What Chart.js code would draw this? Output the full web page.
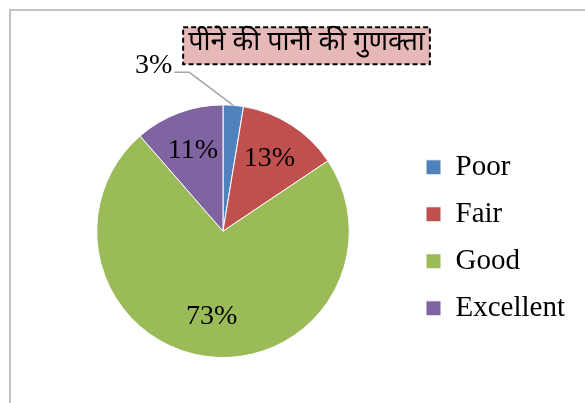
<!DOCTYPE html>
<html>
<head>
<meta charset="utf-8">
<script src="https://cdn.jsdelivr.net/npm/chart.js@4.4.0/dist/chart.umd.min.js"></script>
<style>
    html, body { margin: 0; padding: 0; background: #fff; overflow: hidden; }
    canvas { display: block; }
</style>
</head>
<body>
<canvas id="chart" width="585" height="403"></canvas>
<script>
const categories = ['Poor', 'Fair', 'Good', 'Excellent'];
const shares = [2.6, 13.0, 73.0, 11.4];
const sliceColors = ['#4F81BD', '#C0504D', '#9BBB59', '#8064A2'];
const titleText = 'पीने की पानी की गुणक्ता';

(function () {
    const serif = '"Liberation Serif", "Times New Roman", serif';
    const deva = '"Noto Sans Devanagari", "Lohit Devanagari", "Noto Sans", sans-serif';
    const titlePad = {top: 29, bottom: 43};

    // grey outer frame, only left and top edges fall inside the window
    const frame = {
        id: 'frame',
        beforeDraw(chart) {
            const ctx = chart.ctx;
            ctx.save();
            ctx.fillStyle = '#fff';
            ctx.fillRect(0, 0, chart.width, chart.height);
            ctx.strokeStyle = '#c3c3c3';
            ctx.lineWidth = 2;
            ctx.strokeRect(10, 10, chart.width + 40, chart.height + 40);
            ctx.restore();
        }
    };

    // pink dashed box behind the title text
    const titleBox = {
        id: 'titleBox',
        beforeDraw(chart) {
            const t = chart.titleBlock;
            if (!t) return;
            const ctx = chart.ctx;
            const f = Chart.helpers.toFont(t.options.font);
            ctx.save();
            ctx.font = f.string;
            const w = ctx.measureText(t.options.text).width;
            const cx = (t.left + t.right) / 2;
            const cy = t.top + titlePad.top + f.lineHeight / 2;
            ctx.fillStyle = '#E6B9B8';
            ctx.fillRect(cx - w / 2 - 5, cy - 18, w + 10, 37);
            ctx.setLineDash([5, 3]);
            ctx.strokeStyle = '#000';
            ctx.lineWidth = 2;
            ctx.strokeRect(cx - w / 2 - 5, cy - 18, w + 10, 37);
            ctx.restore();
        }
    };

    // percentage labels, small slices get an outside label with a leader line
    const pctLabels = {
        id: 'pctLabels',
        afterDatasetsDraw(chart) {
            const ctx = chart.ctx;
            const meta = chart.getDatasetMeta(0);
            const vals = chart.data.datasets[0].data;
            const total = vals.reduce((a, b) => a + b, 0);
            ctx.save();
            ctx.font = '28px ' + serif;
            ctx.fillStyle = '#000';
            meta.data.forEach((arc, i) => {
                const p = arc.getProps(['x', 'y', 'startAngle', 'endAngle', 'outerRadius'], true);
                const mid = (p.startAngle + p.endAngle) / 2;
                const txt = Math.round(vals[i] / total * 100) + '%';
                if (vals[i] / total >= 0.05) {
                    const r = p.outerRadius * 0.68;
                    ctx.textAlign = 'center';
                    ctx.textBaseline = 'middle';
                    ctx.fillText(txt, p.x + Math.cos(mid) * r, p.y + Math.sin(mid) * r);
                } else {
                    const x0 = p.x + Math.cos(mid) * p.outerRadius;
                    const y0 = p.y + Math.sin(mid) * p.outerRadius;
                    const x1 = x0 - 44, y1 = y0 - 33;
                    ctx.strokeStyle = '#a6a6a6';
                    ctx.lineWidth = 1.5;
                    ctx.beginPath();
                    ctx.moveTo(x0, y0);
                    ctx.lineTo(x1, y1);
                    ctx.lineTo(x1 - 15, y1);
                    ctx.stroke();
                    ctx.textAlign = 'right';
                    ctx.textBaseline = 'alphabetic';
                    ctx.fillText(txt, x1 - 17, y1 + 1);
                }
            });
            ctx.restore();
        }
    };

    new Chart(document.getElementById('chart'), {
        type: 'pie',
        data: {
            labels: categories,
            datasets: [{
                data: shares,
                backgroundColor: sliceColors,
                borderColor: '#fff',
                borderWidth: 1
            }]
        },
        options: {
            responsive: false,
            animation: false,
            layout: {padding: {left: 38, right: 10, top: 0, bottom: 45}},
            plugins: {
                title: {
                    display: true,
                    text: titleText,
                    color: '#000',
                    font: {family: deva, size: 27, weight: 'normal'},
                    padding: titlePad
                },
                legend: {
                    position: 'right',
                    fullSize: false,
                    title: {display: true, text: ' ', font: {size: 1}, padding: {top: 12, bottom: 0}},
                    labels: {
                        color: '#000',
                        font: {family: serif, size: 29},
                        boxWidth: 15,
                        boxHeight: 15,
                        padding: 18
                    }
                },
                tooltip: {enabled: false}
            }
        },
        plugins: [frame, titleBox, pctLabels]
    });
})();
</script>
</body>
</html>
